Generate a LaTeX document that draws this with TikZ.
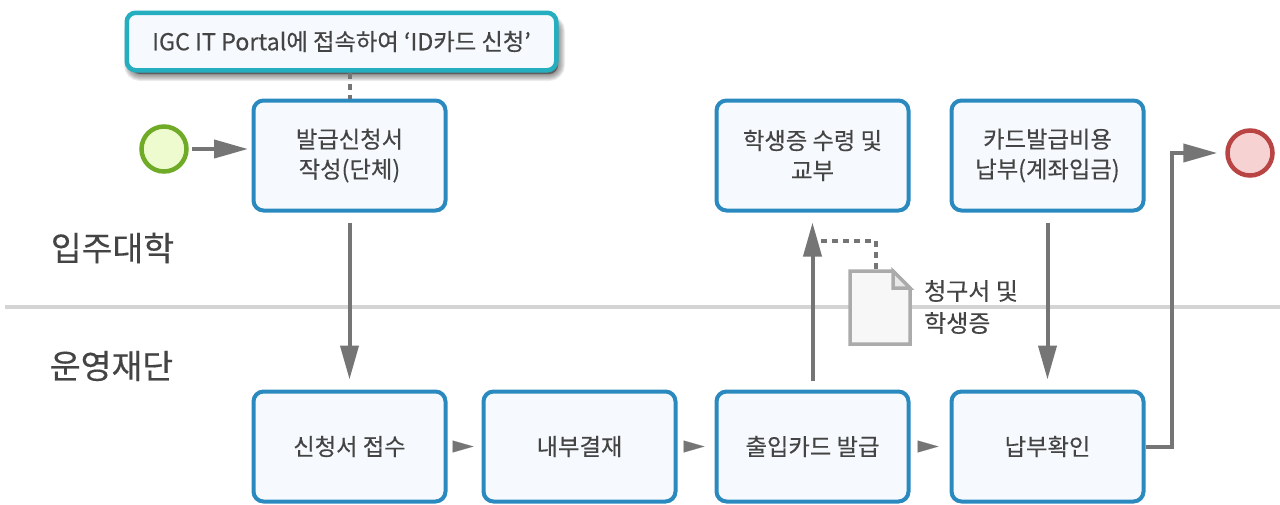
\documentclass[tikz,border=0pt]{standalone}
\usepackage{fontspec}
\setmainfont[FakeBold=0.3]{Noto Sans CJK KR}
\usetikzlibrary{arrows.meta,calc}
\definecolor{boxblue}{HTML}{2A8ABF}
\definecolor{boxfill}{HTML}{F6FAFE}
\definecolor{notecol}{HTML}{24AEBF}
\definecolor{flowgray}{HTML}{757575}
\definecolor{txt}{HTML}{444444}
\tikzset{
  x=1pt,y=-1pt,
  every node/.style={text=txt,font=\fontsize{23.3}{30}\selectfont,align=center,inner sep=0pt},
  taskbox/.style={draw=boxblue,line width=4pt,fill=boxfill,rounded corners=10pt,minimum width=192pt,minimum height=110pt},
  notebox/.style={draw=notecol,line width=4.5pt,fill=boxfill,rounded corners=9pt,minimum width=429.5pt,minimum height=57.5pt},
  startev/.style={circle,draw=startg,line width=4.5pt,fill=startf,minimum size=45pt},
  endev/.style={circle,draw=endr,line width=4.5pt,fill=endf,minimum size=45pt},
  flow/.style={draw=flowgray,line width=4pt,-{Triangle[length=34pt,width=18pt,fill=flowgray]}},
  miniflow/.style={draw=flowgray,line width=.1pt,-{Triangle[length=21pt,width=12pt,fill=flowgray]}},
  assoc/.style={draw=flowgray,line width=4pt,dash pattern=on 6pt off 5pt},
  lane/.style={font=\fontsize{33.5}{40}\selectfont},
  doclabel/.style={font=\fontsize{24}{30}\selectfont,anchor=west},
}
\definecolor{startg}{HTML}{6FAB26}
\definecolor{startf}{HTML}{EEFBCF}
\definecolor{endr}{HTML}{B94444}
\definecolor{endf}{HTML}{F6D2D2}
\begin{document}
\begin{tikzpicture}
\useasboundingbox (0,0) rectangle (1280,504);
% lane divider
\coordinate (laneL) at (5,307);
\coordinate (laneR) at (1280,307);
\draw[draw=black!17,line width=4pt] (laneL) -- (laneR);
% note shadow
\foreach \w in {14,12,10,8,6,4,2}{
  \draw[line width=\w pt,draw=black,fill=black,draw opacity=.07,fill opacity=.07,rounded corners=9pt]
    (131,22) rectangle (558,74);
}
% nodes
\node[notebox] (note) at (341.5,41.5) {IGC IT Portal에 접속하여 ‘ID카드 신청’};
\node[taskbox] (apply) at (349.5,155.5) {발급신청서\\작성(단체)};
\node[taskbox] (receipt) at (812.5,155.5) {학생증 수령 및\\교부};
\node[taskbox] (pay) at (1047.5,155.5) {카드발급비용\\납부(계좌입금)};
\node[taskbox] (recv) at (349.5,446.5) {신청서 접수};
\node[taskbox] (appr) at (579.5,446.5) {내부결재};
\node[taskbox] (issue) at (812.5,446.5) {출입카드 발급};
\node[taskbox] (conf) at (1047.5,446.5) {납부확인};
\node[startev] (start) at (164,149) {};
\node[endev] (stop) at (1250,153) {};
\node[lane] (uni) at (112.5,248) {입주대학};
\node[lane] (fnd) at (111.5,366) {운영재단};
\node[doclabel] (doc1) at (924,291) {청구서 및};
\node[doclabel] (doc2) at (924,323) {학생증};
% document
\draw[draw=black!33,line width=3.5pt,fill=black!3,line join=miter]
  (850,271) -- (893,271) -- (910,288) -- (910,344) -- (850,344) -- cycle;
\draw[draw=black!33,line width=3.5pt,fill=black!9,line join=miter]
  (893,271) -- (910,288) -- (893,288) -- cycle;
\node[minimum width=64pt,minimum height=77pt] (doc) at (880,307.5) {};
% connectors
\coordinate (docTop) at (876,269);
\coordinate (bend) at (876,241);
\coordinate (assocEnd) at (820,241);
\coordinate (startIn) at (248,149);
\draw[assoc] (note.south -| apply.north) -- (apply.north);
\draw[assoc] (docTop) -- (bend) -- (assocEnd);
\draw[flow,shorten <=3pt] (start.east) -- (startIn);
\draw[flow,shorten <=10pt,shorten >=10pt] (apply.south) -- (recv.north);
\draw[flow,shorten <=9pt,shorten >=10pt] (issue.north) -- (receipt.south);
\draw[flow,shorten <=10pt,shorten >=10pt] (pay.south) -- (conf.north);
\draw[miniflow,shorten <=8pt,shorten >=8pt] (recv.east) -- (appr.west);
\draw[miniflow,shorten <=9pt,shorten >=10pt] (appr.east) -- (issue.west);
\draw[miniflow,shorten <=10pt,shorten >=11pt] (issue.east) -- (conf.west);
\coordinate (c1) at (1172,446.5);
\coordinate (c2) at (1172,153);
\draw[flow,line join=miter,shorten >=8pt] (conf.east) -- (c1) -- (c2) -- (stop.west);
\end{tikzpicture}
\end{document}
